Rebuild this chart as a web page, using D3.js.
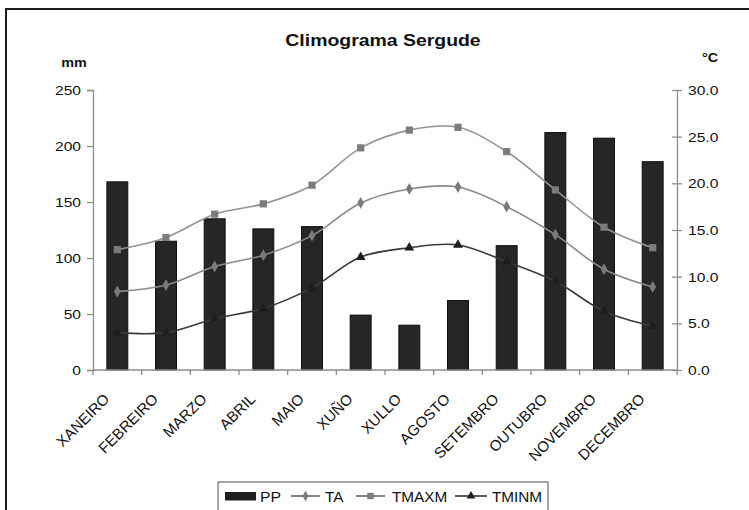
<!DOCTYPE html>
<html>
<head>
<meta charset="utf-8">
<script src="https://cdn.jsdelivr.net/npm/d3@7/dist/d3.min.js"></script>
<style>
  body { margin: 0; background: #fff; }
  text { font-family: "Liberation Sans", Arial, Helvetica, sans-serif; fill: #111; }
</style>
</head>
<body>
<svg id="chart"></svg>
<script>
const months = ["XANEIRO", "FEBREIRO", "MARZO", "ABRIL", "MAIO", "XUÑO", "XULLO",
                "AGOSTO", "SETEMBRO", "OUTUBRO", "NOVEMBRO", "DECEMBRO"];
const pp    = [168, 115, 135, 126, 128, 49, 40, 62, 111, 212, 207, 186];
const ta    = [8.4, 9.1, 11.1, 12.3, 14.4, 17.9, 19.4, 19.6, 17.5, 14.5, 10.8, 8.9];
const tmaxm = [12.9, 14.2, 16.7, 17.8, 19.8, 23.8, 25.7, 26.0, 23.4, 19.3, 15.3, 13.1];
const tminm = [4.0, 4.0, 5.5, 6.6, 8.8, 12.1, 13.1, 13.4, 11.6, 9.5, 6.3, 4.7];
const ppTicks = [0, 50, 100, 150, 200, 250];
const tTicks  = [0, 5, 10, 15, 20, 25, 30];

const W = 749, H = 510;
const svg = d3.select("#chart").attr("width", W).attr("height", H);
const SX = 1.2; // the source axis text is a little wide

// outer frame
svg.append("rect")
    .attr("x", 6).attr("y", 9).attr("width", 780).attr("height", 540)
    .attr("fill", "#fff").attr("stroke", "#1c1c1c").attr("stroke-width", 2);

const pLeft = 93, pRight = 677, pTop = 90, pBottom = 370;

const x = d3.scaleBand().domain(months).range([pLeft, pRight]).padding(0);
const yPP = d3.scaleLinear().domain([0, 250]).range([pBottom, pTop]);
const yT = d3.scaleLinear().domain([0, 30]).range([pBottom, pTop]);

function stretchedText(g, tx, ty, str, sx = SX) {
    return g.append("text")
        .attr("transform", `translate(${tx},${ty}) scale(${sx},1)`)
        .text(str);
}

// title and units
stretchedText(svg, 383, 46, "Climograma Sergude")
    .attr("text-anchor", "middle").attr("font-weight", "bold").attr("font-size", 16.2);
stretchedText(svg, 74, 67, "mm")
    .attr("text-anchor", "middle").attr("font-weight", "bold").attr("font-size", 12);
stretchedText(svg, 710, 62, "°C")
    .attr("text-anchor", "middle").attr("font-weight", "bold").attr("font-size", 12);

const axisColor = "#8c8c8c";

// left axis
const gl = svg.append("g").attr("transform", `translate(${pLeft},0)`);
gl.call(d3.axisLeft(yPP).tickValues(ppTicks).tickSize(6).tickFormat(d3.format("d")));
gl.select(".domain").attr("stroke", axisColor).attr("stroke-width", 1.3);
gl.selectAll(".tick line").attr("stroke", axisColor).attr("stroke-width", 1.3);
gl.selectAll(".tick text").remove();
ppTicks.forEach(v => {
    stretchedText(svg, 81, yPP(v) + 5, v).attr("text-anchor", "end").attr("font-size", 13);
});

// right axis
const gr = svg.append("g").attr("transform", `translate(${pRight},0)`);
gr.call(d3.axisRight(yT).tickValues(tTicks).tickSizeInner(5).tickSizeOuter(0));
gr.select(".domain").attr("stroke", axisColor).attr("stroke-width", 1.3);
gr.selectAll(".tick line").attr("stroke", axisColor).attr("stroke-width", 1.3).attr("x1", -5);
gr.selectAll(".tick text").remove();
tTicks.forEach(v => {
    stretchedText(svg, 688, yT(v) + 5, d3.format(".1f")(v)).attr("font-size", 13);
});

// bars
const barW = x.bandwidth() * 0.43;
svg.append("g").selectAll("rect")
    .data(pp)
    .join("rect")
    .attr("x", (d, i) => x(months[i]) + (x.bandwidth() - barW) / 2)
    .attr("y", d => yPP(d))
    .attr("width", barW)
    .attr("height", d => pBottom - yPP(d))
    .attr("fill", "#262626")
    .attr("stroke", "#0d0d0d")
    .attr("stroke-width", 1);

// x axis with ticks between the months
const gx = svg.append("g").attr("transform", `translate(0,${pBottom})`);
gx.append("line").attr("x1", pLeft).attr("x2", pRight)
    .attr("stroke", axisColor).attr("stroke-width", 1.3);
gx.selectAll("line.t")
    .data(d3.range(months.length + 1))
    .join("line")
    .attr("class", "t")
    .attr("x1", i => pLeft + i * x.bandwidth())
    .attr("x2", i => pLeft + i * x.bandwidth())
    .attr("y1", 0).attr("y2", 5)
    .attr("stroke", axisColor).attr("stroke-width", 1.3);

svg.append("g").selectAll("text")
    .data(months)
    .join("text")
    .attr("transform", d => `translate(${x(d) + x.bandwidth() / 2 - 7},400) rotate(-45)`)
    .attr("text-anchor", "end")
    .attr("font-size", 15)
    .text(d => d);

// temperature lines
const cx = i => x(months[i]) + x.bandwidth() / 2;
const line = d3.line()
    .x((d, i) => cx(i))
    .y(d => yT(d))
    .curve(d3.curveCatmullRom.alpha(0.5));

const series = [
    { name: "TMAXM", values: tmaxm, line: "#949494", mark: "#7c7c7c", shape: d3.symbolSquare, size: 52 },
    { name: "TA",    values: ta,    line: "#8a8a8a", mark: "#7a7a7a", shape: d3.symbolDiamond, size: 40 },
    { name: "TMINM", values: tminm, line: "#3a3a3a", mark: "#1e1e1e", shape: d3.symbolTriangle, size: 42 }
];

series.forEach(s => {
    svg.append("path")
        .datum(s.values)
        .attr("d", line)
        .attr("fill", "none")
        .attr("stroke", s.line)
        .attr("stroke-width", 1.6);
    svg.append("g").selectAll("path")
        .data(s.values)
        .join("path")
        .attr("transform", (d, i) => `translate(${cx(i)},${yT(d)})`)
        .attr("d", d3.symbol().type(s.shape).size(s.size))
        .attr("fill", s.mark);
});

// legend
const lg = svg.append("g");
lg.append("rect")
    .attr("x", 218).attr("y", 482).attr("width", 330).attr("height", 32)
    .attr("fill", "#fff").attr("stroke", "#6a6a6a").attr("stroke-width", 1.2);
lg.append("rect")
    .attr("x", 225).attr("y", 492).attr("width", 31).attr("height", 8.5)
    .attr("fill", "#1e1e1e");
stretchedText(lg, 260, 502, "PP", 1.05).attr("font-size", 15);

const legendItems = [
    { s: series[1], x0: 291, x1: 320, tx: 325 },
    { s: series[0], x0: 356, x1: 385, tx: 392 },
    { s: series[2], x0: 455, x1: 487, tx: 492 }
];
legendItems.forEach(it => {
    lg.append("line")
        .attr("x1", it.x0).attr("x2", it.x1).attr("y1", 496).attr("y2", 496)
        .attr("stroke", it.s.name === "TMINM" ? "#222" : "#5a5a5a").attr("stroke-width", 1.5);
    lg.append("path")
        .attr("transform", `translate(${(it.x0 + it.x1) / 2},496)`)
        .attr("d", d3.symbol().type(it.s.shape).size(it.s.size * 0.8))
        .attr("fill", it.s.mark);
    stretchedText(lg, it.tx, 502, it.s.name, 1.02).attr("font-size", 15);
});
</script>
</body>
</html>
